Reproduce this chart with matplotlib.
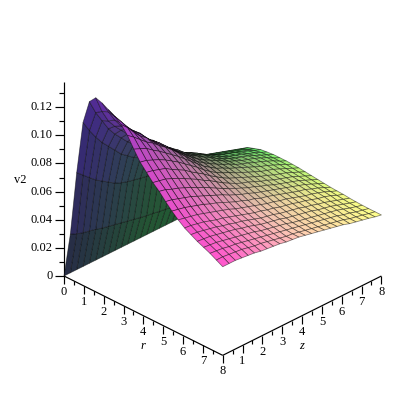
import numpy as np
import matplotlib
matplotlib.use("Agg")
import matplotlib.pyplot as plt
from mpl_toolkits.mplot3d import proj3d

plt.rcParams['font.family'] = ['Liberation Serif', 'DejaVu Serif']

r_values = [0.32 * i for i in range(26)]
z_values = [0.32 * j for j in range(26)]

# v2 (in thousandths): one list per r, running along z
v_at_r = [
 [0]*26,
 [32,30,28.5,27.5,26.5,25,24,23,22,21,20,19,18,17.5,16.5,16,15,14.5,14,13.5,13,12.5,12,11.5,11,10.5],
 [78,74,70,66,63,60,57,55,53.5,52.5,51.5,50.5,49,47,45,43,41,39.5,38,36.5,35,33.5,32.5,31.5,30.5,29.5],
 [116,108,101,95,90,85,80,76.5,73,70.5,68,66,64,61,58,56,53,51,49,47.5,46,44.5,43,42,41,40],
 [133,123,115,107,101,96,91,87,83,79,75.5,72,69,66.5,64,61.5,59,56.5,54.5,53,51.5,50,48.5,47,45.5,44],
 [138,126,117,111,106,101,97,92.5,89,85,81,77.5,74,70,67.5,65,62,59.5,57,55,53.5,52,50.5,49,47,45.5],
 [136.5,128,120,113.5,109,104.5,99,95,92,87.5,83,79,75,72,69.5,67,64,61.5,59,57,55.5,54,52,50.5,48.5,47],
 [134,127,120,114.5,110,106,99.5,96,92,87.5,84,80.5,76.5,73,70.5,68,65,62.5,60,58,56.5,55,53,51.5,49.5,47.5],
 [131.5,125.5,119.5,114,110,105,100.5,97,92.5,88,84,80,76.5,74,71,68.5,65.5,63,61,59,57.5,56,54,52,50,48],
 [128,123.5,118,113,109.5,104.5,100.5,96,92,88,84,80,76.5,73.5,71,68.5,66,63.5,61.5,59.5,58,56.5,54.5,52.5,50,48],
 [122.5,119,115,111,108,104,100.5,96.5,92,87.5,83,79,76,73,70.5,68,66,63.5,61.5,60,58,56.5,54.5,52.5,50,48],
 [115,113,111,107.5,104.5,101,97.5,94,90,86,82,78,75,72,70,67.5,65.5,63.5,61.5,59.5,57.5,56,54,52,50,47.8],
 [108,107,105,103,100.5,97.5,94.5,91,87.5,84,80,76.5,73.5,71,69,66.5,64.5,62.5,60.5,58.5,57,55.5,53.5,51.5,49.5,47.5],
 [103,102,100.5,99,96,93.5,91,87.5,84.5,81.5,78,75,72,69.5,67.5,65.5,63.5,61.5,59.5,58,56,54.5,53,51,49,47],
 [98,97,96,94,92,89.5,87,84.5,81.5,79,76,73,70.5,68,66,64.5,62.5,60.5,59,57,55.5,54,52.5,50.5,48.5,46.5],
 [94,93,91,89.5,87.5,85.5,83,81,78.5,76,73.5,71,69,67,65,63.5,61.5,60,58,56.5,55,53.5,52,50,48,46],
 [89,88,86.5,85,83.5,81.5,79.5,77.5,75.5,73.5,71,69,67,65.5,63.5,62,60.5,59,57.5,56,54.5,53,51.5,49.5,47.5,45.5],
 [84.5,83.5,82.5,81,79.5,78,76,74.5,72.5,70.5,68.5,67,65,64,62,61,59.5,58,56.5,55,53.5,52.5,50.5,49,47,45],
 [80.5,79.5,78.5,77.5,76,74.5,73,71.5,70,68,66.5,65,63.5,62,60.5,59.5,58,57,55.5,54,52.5,51.5,50,48.5,46.5,44.7],
 [77,76.5,75.5,74.5,73,71.5,70.5,69,67.5,66,64.5,63,62,60.5,59.5,58,57,56,54.5,53.5,52,50.5,49.5,48,46,44.5],
 [74.5,74,73,72,71,69.5,68.5,67,66,64.5,63,61.5,60.5,59.5,58,57,56,55,53.5,52.5,51,50,48.5,47,45.5,44],
 [72,71.5,71,70,69,68,67,65.5,64.5,63,61.5,60.5,59.5,58.5,57,56,55,54,53,51.5,50.5,49.5,48,46.5,45,43.7],
 [70,69.5,69,68,67,66,65,64,63,61.5,60.5,59.5,58.5,57.5,56,55,54,53,52,51,50,49,47.5,46,44.7,43.5],
 [68,67.5,67,66,65.5,64.5,63.5,62.5,61.5,60.5,59.5,58.5,57.5,56.5,55.5,54.5,53.5,52.5,51.5,50.5,49.5,48,47,45.5,44.5,43.4],
 [65.5,65.5,65,64.5,64,63,62,61.5,60.5,59.5,58.5,57.5,57,56,55,54,53,52,51,50,49,47.5,46.5,45.5,44.3,43.4],
 [63,63,63,62.5,62,61.5,60.5,60,59.5,59,58,57.5,57,56,55,54,53,52,51,50,48.5,47.5,46.5,45.5,44.3,43.4],
]

r_major = [0, 1, 2, 3, 4, 5, 6, 7, 8]
z_major = [0, 1, 2, 3, 4, 5, 6, 7, 8]
r_minor = [0.5, 1.5, 2.5, 3.5, 4.5, 5.5, 6.5, 7.5]
z_minor = [0.5, 1.5, 2.5, 3.5, 4.5, 5.5, 6.5, 7.5]
v_major = [0, 0.02, 0.04, 0.06, 0.08, 0.10, 0.12]
v_minor = [0.01, 0.03, 0.05, 0.07, 0.09, 0.11, 0.13]
v_labels = ['0', '0.02', '0.04', '0.06', '0.08', '0.10', '0.12']
v_top = 0.138

# colour anchors over (r, z)
col_r = [0, 1, 2, 3, 4, 6, 8]
col_z = [0, 4, 8]
red = [[35,60,110,165,205,245,255],[35,40,75,125,175,238,255],[30,50,110,150,190,240,255]]
green = [[45,40,45,60,70,80,85],[85,80,85,125,160,195,205],[90,150,240,245,250,252,255]]
blue = [[60,130,175,195,200,205,205],[50,60,80,110,140,175,180],[50,65,110,115,120,130,140]]

r = np.array(r_values)
z = np.array(z_values)
V = np.array(v_at_r).T / 1000.0
R, Z = np.meshgrid(r, z)

def channel(tab, rc, zc):
    rows = np.array([np.interp(rc, col_r, row) for row in tab])
    out = np.empty(rc.shape)
    for idx in np.ndindex(rc.shape):
        out[idx] = np.interp(zc[idx], col_z, [rows[k][idx] for k in range(3)])
    return out / 255.0

rc = 0.25 * (R[:-1, :-1] + R[1:, :-1] + R[:-1, 1:] + R[1:, 1:])
zc = 0.25 * (Z[:-1, :-1] + Z[1:, :-1] + Z[:-1, 1:] + Z[1:, 1:])
colors = np.dstack([channel(red, rc, zc), channel(green, rc, zc), channel(blue, rc, zc),
                    np.ones(rc.shape)])

fig = plt.figure(figsize=(4, 4), dpi=100)
ax = fig.add_axes([0, 0, 1, 1], projection='3d', proj_type='ortho')
ax.computed_zorder = False
ax.view_init(elev=30, azim=-45)
ax.set_xlim(0, 8)
ax.set_ylim(0, 8)
ax.set_zlim(0, v_top)
aspect = (8 * 28, 8 * 28, v_top * 1621)
ax.set_box_aspect(aspect, zoom=1)
ax.set_axis_off()
ax.patch.set_alpha(0)

surf = ax.plot_surface(R, Z, V, facecolors=colors, rstride=1, cstride=1, shade=False,
                       linewidth=0.55, antialiased=True, zorder=3)
surf.set_edgecolor((0, 0, 0, 0.5))

PX = 1 / 1404.0   # v units per vertical pixel
SIDE = 1 / 39.6   # r and z units per horizontal pixel
kw = dict(color='black', lw=0.85, solid_capstyle='butt', zorder=2)
ax.plot([0, 8], [0, 0], [0, 0], **kw)
ax.plot([8, 8], [0, 8], [0, 0], **kw)
ax.plot([0, 0], [0, 0], [0, v_top], **kw)

labels = []
for t in r_major:
    ax.plot([t, t], [0, 0], [0, -8 * PX], **kw)
    labels.append((t, 0, -16 * PX, str(t), 'center', 'normal'))
for t in r_minor:
    ax.plot([t, t], [0, 0], [0, -4 * PX], **kw)
for t in z_major[1:]:
    ax.plot([8, 8], [t, t], [0, -8 * PX], **kw)
    labels.append((8, t, -16 * PX, str(t), 'center', 'normal'))
for t in z_minor:
    ax.plot([8, 8], [t, t], [0, -4 * PX], **kw)
for t, lab in zip(v_major, v_labels):
    ax.plot([0, -9 * SIDE], [0, -9 * SIDE], [t, t], **kw)
    labels.append((-11 * SIDE, -11 * SIDE, t, lab, 'right', 'normal'))
for t in v_minor:
    ax.plot([0, -5 * SIDE], [0, -5 * SIDE], [t, t], **kw)

labels.append((4, 0, -30 * PX, 'r', 'center', 'italic'))
labels.append((8, 4, -30 * PX, 'z', 'center', 'italic'))
labels.append((-44 * SIDE, -44 * SIDE, 0.0684, 'v2', 'center', 'normal'))

def px(x, y, w):
    xs, ys, _ = proj3d.proj_transform(x, y, w, ax.get_proj())
    return ax.transData.transform((xs, ys))

fig.canvas.draw()
a, b = px(0, 0, 0), px(8, 0, 0)
ax.set_box_aspect(aspect, zoom=158.7 / (b[0] - a[0]))
fig.canvas.draw()
a = px(0, 0, 0)
ax.set_position([(64 - a[0]) / 400, (124 - a[1]) / 400, 1, 1])
fig.canvas.draw()

for x, y, w, s, ha, style in labels:
    p = px(x, y, w)
    fig.text(p[0] / 400, p[1] / 400, s, ha=ha, va='center', style=style, fontsize=9)

fig.savefig('out.png', dpi=100)
